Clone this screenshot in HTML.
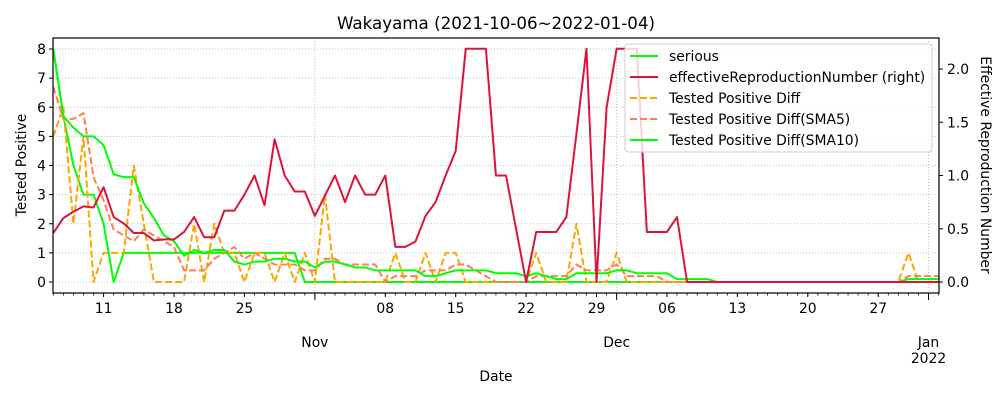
<!DOCTYPE html>
<html><head><meta charset="utf-8"><style>
body{margin:0;background:#fff;}
svg{display:block;font-family:"DejaVu Sans","Liberation Sans",sans-serif;}
</style></head><body>
<svg id="chart" width="1000" height="400" viewBox="0 0 1000 400">
<rect width="1000" height="400" fill="#fff"/>
<text x="496" y="29" font-size="16.7" text-anchor="middle">Wakayama (2021-10-06~2022-01-04)</text>
<g id="grid"></g>
<g id="plot"></g>
<g id="axes"></g>
<text x="496" y="381" font-size="13.9" text-anchor="middle">Date</text>
<text transform="translate(26,165) rotate(-90)" font-size="13.9" text-anchor="middle">Tested Positive</text>
<text transform="translate(981,165) rotate(90)" font-size="13.9" text-anchor="middle">Effective Reproduction Number</text>
<g>
<rect x="625" y="44" width="307" height="108" rx="3" fill="#fff" fill-opacity="0.8" stroke="#ccc"/>
<line x1="630" y1="56" x2="658" y2="56" stroke="#00ff00" stroke-width="2"/>
<text x="669" y="61" font-size="13.9">serious</text>
<line x1="630" y1="77" x2="658" y2="77" stroke="#dc143c" stroke-width="2"/>
<text x="669" y="82" font-size="13.9">effectiveReproductionNumber (right)</text>
<line x1="630" y1="98" x2="658" y2="98" stroke="#ffa500" stroke-width="2" stroke-dasharray="7,3"/>
<text x="669" y="103" font-size="13.9">Tested Positive Diff</text>
<line x1="630" y1="119" x2="658" y2="119" stroke="#ff7f50" stroke-width="2" stroke-dasharray="7,3"/>
<text x="669" y="124" font-size="13.9">Tested Positive Diff(SMA5)</text>
<line x1="630" y1="140" x2="658" y2="140" stroke="#00ff00" stroke-width="2"/>
<text x="669" y="145" font-size="13.9">Tested Positive Diff(SMA10)</text>
</g>
</svg>
<script>
const serious=[8,5.7,4,3,3,2,0,1,1,1,1,1,1,1,1,1,1,1,1,1,1,1,1,1,1,0,0,0,0,0,0,0,0,0,0,0,0,0,0,0,0,0,0,0,0,0,0,0,0,0,0,0,0,0,0,0,0,0,0,0,0,0,0,0,0,0,0,0,0,0,0,0,0,0,0,0,0,0,0,0,0,0,0,0,0,0,0,0,0];
const reproduction=[0.46,0.60,0.66,0.71,0.70,0.89,0.61,0.55,0.46,0.46,0.39,0.40,0.40,0.47,0.61,0.42,0.42,0.67,0.67,0.82,1.00,0.72,1.34,1.00,0.85,0.85,0.62,0.81,1.00,0.75,1.00,0.82,0.82,1.00,0.33,0.33,0.38,0.62,0.75,1.00,1.23,2.19,2.19,2.19,1.00,1.00,0.50,0,0.47,0.47,0.47,0.61,1.39,2.19,0,1.64,2.19,2.19,2.19,0.47,0.47,0.47,0.61,0,0,0,0,0,0,0,0,0,0,0,0,0,0,0,0,0,0,0,0,0,0,0,0,0,0];
const diff=[5,6,2,5,0,1,1,1,4,2,0,0,0,0,2,0,2,1,1,0,1,1,0,1,0,1,0,3,0,0,0,0,0,0,1,0,0,1,0,1,1,0,0,0,0,0,0,0,1,0,0,0,2,0,0,0,1,0,0,0,0,0,0,0,0,0,0,0,0,0,0,0,0,0,0,0,0,0,0,0,0,0,0,0,0,1,0,0,0];
const sma5=[6.7,5.6,5.6,5.8,3.6,2.8,1.8,1.6,1.4,1.8,1.6,1.4,1.2,0.4,0.4,0.4,0.8,1.0,1.2,0.8,1.0,0.8,0.6,0.6,0.6,0.4,0.4,0.8,0.8,0.6,0.6,0.6,0.6,0,0.2,0.2,0.2,0.4,0.4,0.4,0.6,0.6,0.4,0.2,0,0,0,0,0.2,0.2,0.2,0.2,0.6,0.4,0.4,0.4,0.6,0.2,0.2,0.2,0.2,0,0,0,0,0,0,0,0,0,0,0,0,0,0,0,0,0,0,0,0,0,0,0,0,0.2,0.2,0.2,0.2];
const sma10=[8,5.7,5.3,5,5,4.7,3.7,3.6,3.6,2.7,2.2,1.6,1.4,0.9,1.1,1.0,1.1,1.1,0.7,0.6,0.7,0.7,0.8,0.8,0.7,0.7,0.5,0.7,0.7,0.6,0.5,0.5,0.4,0.4,0.4,0.4,0.4,0.2,0.2,0.3,0.4,0.4,0.4,0.4,0.3,0.3,0.3,0.2,0.3,0.2,0.1,0.1,0.3,0.3,0.3,0.3,0.4,0.4,0.3,0.3,0.3,0.3,0.1,0.1,0.1,0.1,0,0,0,0,0,0,0,0,0,0,0,0,0,0,0,0,0,0,0,0.1,0.1,0.1,0.1];
const leftTicks=[0,1,2,3,4,5,6,7,8];
const rightTicks=["0.0","0.5","1.0","1.5","2.0"];
const dayTickIdx=[5,12,19,33,40,47,54,61,68,75,82];
const dayTickLabels=["11","18","25","08","15","22","29","06","13","20","27"];
const monthTickIdx=[26,56,87];
const monthTickLabels=[["Nov"],["Dec"],["Jan","2022"]];

const NS="http://www.w3.org/2000/svg";
const X0=53.3,DX=10.06,PL=53,PR=939,PT=38,PB=293;
const x=i=>X0+i*DX;
const yL=v=>282-v*29.125;
const yR=v=>282-v*106.5;
function mk(tag,attrs,parent){const e=document.createElementNS(NS,tag);for(const k in attrs)e.setAttribute(k,attrs[k]);parent.appendChild(e);return e;}
const grid=document.getElementById('grid'),plot=document.getElementById('plot'),axes=document.getElementById('axes');
const clip=mk('clipPath',{id:'clp'},document.getElementById('chart'));
mk('rect',{x:PL,y:PT,width:PR-PL,height:PB-PT},clip);
plot.setAttribute('clip-path','url(#clp)');
leftTicks.forEach(v=>{
 const g=mk('line',{x1:PL,x2:PR,y1:yL(v),y2:yL(v),stroke:'#b0b0b0','stroke-width':0.8,'stroke-dasharray':'1,2'},grid);
 
 
 mk('line',{x1:PL-4,x2:PL,y1:yL(v),y2:yL(v),stroke:'#000'},axes);
 const t=mk('text',{x:PL-7,y:yL(v)+5,'font-size':13.9,'text-anchor':'end'},axes);
 t.textContent=v;
 
 
});
rightTicks.forEach(s=>{
 const v=parseFloat(s);
 mk('line',{x1:PR,x2:PR+4,y1:yR(v),y2:yR(v),stroke:'#000'},axes);
 const t=mk('text',{x:PR+8,y:yR(v)+5,'font-size':13.9},axes);
 t.textContent=s;
 
 
});
for(let i=0;x(i)<=PR+0.5;i++){mk('line',{x1:x(i),x2:x(i),y1:PB,y2:PB+2.5,stroke:'#000','stroke-width':0.8},axes);}
dayTickIdx.forEach((i,k)=>{
 mk('line',{x1:x(i),x2:x(i),y1:PB,y2:PB+4,stroke:'#000'},axes);
 const t=mk('text',{x:x(i),y:PB+20,'font-size':13.9,'text-anchor':'middle'},axes);
 t.textContent=dayTickLabels[k];
 
 
});
monthTickIdx.forEach((i,k)=>{
 const g=mk('line',{x1:x(i),x2:x(i),y1:PT,y2:PB,stroke:'#b0b0b0','stroke-width':0.8,'stroke-dasharray':'1,2'},grid);
 
 
 mk('line',{x1:x(i),x2:x(i),y1:PB,y2:PB+7,stroke:'#000'},axes);
 monthTickLabels[k].forEach((s,j)=>{
  const t=mk('text',{x:x(i),y:PB+54+j*16,'font-size':13.9,'text-anchor':'middle'},axes);
  t.textContent=s;
  
  
 });
});
mk('rect',{x:PL,y:PT,width:PR-PL,height:PB-PT,fill:'none',stroke:'#000','stroke-width':1.2},axes);
function series(arr,fy,color,dash,name){
 const p=mk('polyline',{points:arr.map((v,i)=>x(i)+','+fy(v)).join(' '),fill:'none',stroke:color,'stroke-width':2,'stroke-linejoin':'round'},plot);
 if(dash)p.setAttribute('stroke-dasharray',dash);
 
 
}
series(serious,yL,'#00ff00',null,'serious-line');
series(diff,yL,'#ffa500','7,3','tested-positive-diff-line');
series(sma5,yL,'#ff7f50','7,3','sma5-line');
series(sma10,yL,'#00ff00',null,'sma10-line');
series(reproduction,yR,'#dc143c',null,'reproduction-number-line');
</script>
</body></html>
